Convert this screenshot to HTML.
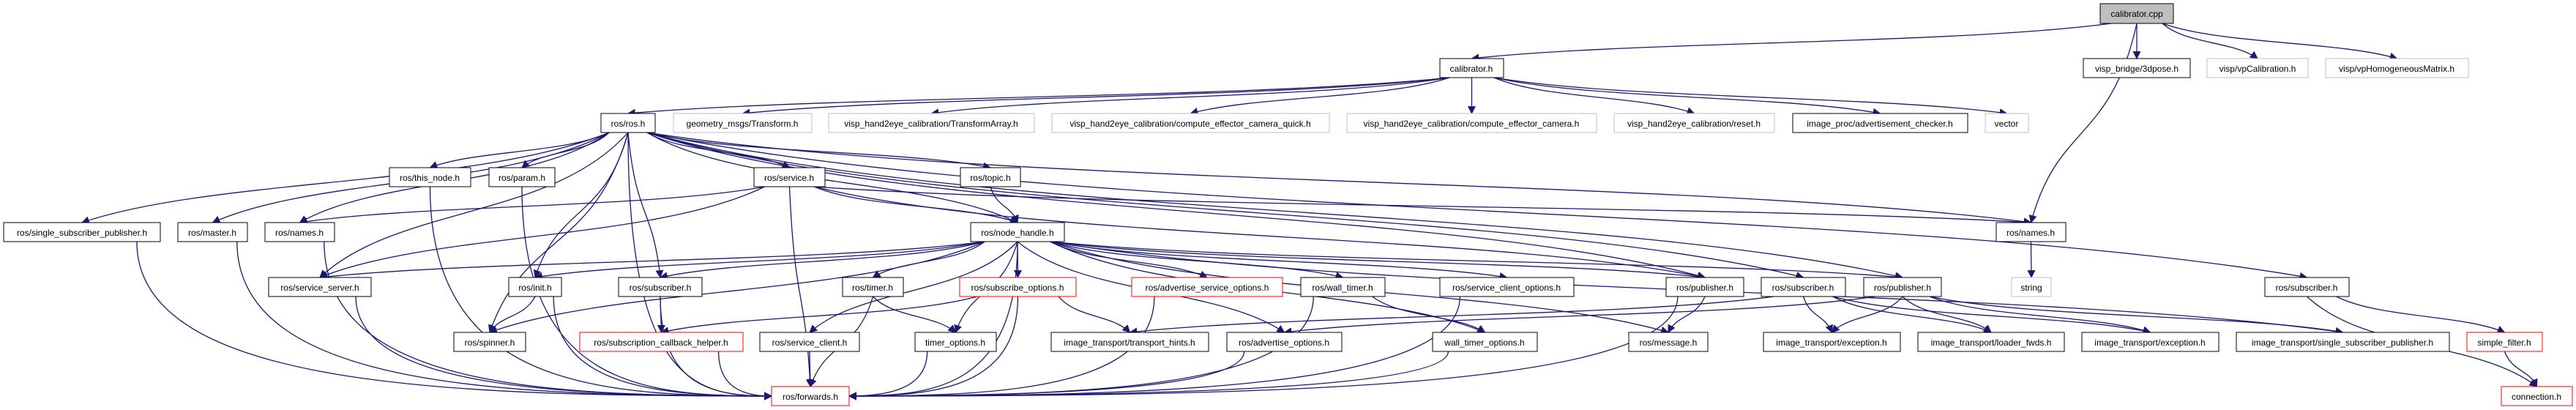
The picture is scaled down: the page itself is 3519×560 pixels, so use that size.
<!DOCTYPE html>
<html><head><meta charset="utf-8"><style>
html,body{margin:0;padding:0;background:#fff;width:3519px;height:560px;overflow:hidden}
svg text{font-family:"Liberation Sans",sans-serif;font-size:12px;fill:#000}
</style></head><body>
<svg id="s" width="3519" height="560" xmlns="http://www.w3.org/2000/svg">
<defs><marker id="a" viewBox="0 0 10 10" refX="9" refY="5" markerWidth="11" markerHeight="11" orient="auto" markerUnits="userSpaceOnUse"><path d="M0,0 L10,5 L0,10 z" fill="#191970"/></marker></defs>
<g id="edges" fill="none" stroke="#191970" stroke-width="1.3"></g>
<g id="nodes">
<g id="cpp"><rect x="2869" y="5" width="100" height="27" fill="#bfbfbf" stroke="#000"/><text x="2919" y="23" text-anchor="middle">calibrator.cpp</text></g>
<g id="calh"><rect x="1967" y="80" width="87" height="26" fill="#fff" stroke="#000"/><text x="2010" y="98" text-anchor="middle">calibrator.h</text></g>
<g id="bridge"><rect x="2846" y="80" width="146" height="26" fill="#fff" stroke="#000"/><text x="2919" y="98" text-anchor="middle">visp_bridge/3dpose.h</text></g>
<g id="vpcal"><rect x="3015" y="80" width="138" height="26" fill="#fff" stroke="#bfbfbf"/><text x="3084" y="98" text-anchor="middle">visp/vpCalibration.h</text></g>
<g id="vphom"><rect x="3177" y="80" width="195" height="26" fill="#fff" stroke="#bfbfbf"/><text x="3274" y="98" text-anchor="middle">visp/vpHomogeneousMatrix.h</text></g>

<g id="rosh"><rect x="821" y="155" width="74" height="26" fill="#fff" stroke="#000"/><text x="858" y="173" text-anchor="middle">ros/ros.h</text></g>
<g id="geom"><rect x="920" y="155" width="189" height="26" fill="#fff" stroke="#bfbfbf"/><text x="1014" y="173" text-anchor="middle">geometry_msgs/Transform.h</text></g>
<g id="tarr"><rect x="1132" y="155" width="281" height="26" fill="#fff" stroke="#bfbfbf"/><text x="1272" y="173" text-anchor="middle">visp_hand2eye_calibration/TransformArray.h</text></g>
<g id="quick"><rect x="1437" y="155" width="379" height="26" fill="#fff" stroke="#bfbfbf"/><text x="1626" y="173" text-anchor="middle">visp_hand2eye_calibration/compute_effector_camera_quick.h</text></g>
<g id="cam"><rect x="1840" y="155" width="341" height="26" fill="#fff" stroke="#bfbfbf"/><text x="2010" y="173" text-anchor="middle">visp_hand2eye_calibration/compute_effector_camera.h</text></g>
<g id="reset"><rect x="2205" y="155" width="219" height="26" fill="#fff" stroke="#bfbfbf"/><text x="2314" y="173" text-anchor="middle">visp_hand2eye_calibration/reset.h</text></g>
<g id="adv"><rect x="2449" y="155" width="239" height="26" fill="#fff" stroke="#000"/><text x="2568" y="173" text-anchor="middle">image_proc/advertisement_checker.h</text></g>
<g id="vector"><rect x="2712" y="155" width="59" height="26" fill="#fff" stroke="#bfbfbf"/><text x="2741" y="173" text-anchor="middle">vector</text></g>

<g id="thisnode"><rect x="532" y="229" width="111" height="26" fill="#fff" stroke="#000"/><text x="587" y="247" text-anchor="middle">ros/this_node.h</text></g>
<g id="param"><rect x="668" y="229" width="90" height="26" fill="#fff" stroke="#000"/><text x="713" y="247" text-anchor="middle">ros/param.h</text></g>
<g id="service"><rect x="1030" y="229" width="97" height="26" fill="#fff" stroke="#000"/><text x="1078" y="247" text-anchor="middle">ros/service.h</text></g>
<g id="topic"><rect x="1312" y="229" width="82" height="26" fill="#fff" stroke="#000"/><text x="1353" y="247" text-anchor="middle">ros/topic.h</text></g>

<g id="ssp"><rect x="5" y="304" width="214" height="26" fill="#fff" stroke="#000"/><text x="112" y="322" text-anchor="middle">ros/single_subscriber_publisher.h</text></g>
<g id="master"><rect x="243" y="304" width="95" height="26" fill="#fff" stroke="#000"/><text x="290" y="322" text-anchor="middle">ros/master.h</text></g>
<g id="names1"><rect x="362" y="304" width="95" height="26" fill="#fff" stroke="#000"/><text x="409" y="322" text-anchor="middle">ros/names.h</text></g>
<g id="nh"><rect x="1326" y="304" width="128" height="26" fill="#fff" stroke="#000"/><text x="1390" y="322" text-anchor="middle">ros/node_handle.h</text></g>
<g id="names2"><rect x="2727" y="304" width="95" height="26" fill="#fff" stroke="#000"/><text x="2774" y="322" text-anchor="middle">ros/names.h</text></g>

<g id="sserver"><rect x="367" y="379" width="140" height="26" fill="#fff" stroke="#000"/><text x="437" y="397" text-anchor="middle">ros/service_server.h</text></g>
<g id="init"><rect x="695" y="379" width="72" height="26" fill="#fff" stroke="#000"/><text x="731" y="397" text-anchor="middle">ros/init.h</text></g>
<g id="sub1"><rect x="845" y="379" width="114" height="26" fill="#fff" stroke="#000"/><text x="902" y="397" text-anchor="middle">ros/subscriber.h</text></g>
<g id="timer"><rect x="1151" y="379" width="83" height="26" fill="#fff" stroke="#000"/><text x="1192" y="397" text-anchor="middle">ros/timer.h</text></g>
<g id="subopts"><rect x="1311" y="379" width="159" height="26" fill="#fff" stroke="#ff0000"/><text x="1390" y="397" text-anchor="middle">ros/subscribe_options.h</text></g>
<g id="advsrv"><rect x="1546" y="379" width="206" height="26" fill="#fff" stroke="#ff0000"/><text x="1649" y="397" text-anchor="middle">ros/advertise_service_options.h</text></g>
<g id="wtimer"><rect x="1777" y="379" width="115" height="26" fill="#fff" stroke="#000"/><text x="1834" y="397" text-anchor="middle">ros/wall_timer.h</text></g>
<g id="sco"><rect x="1967" y="379" width="183" height="26" fill="#fff" stroke="#000"/><text x="2058" y="397" text-anchor="middle">ros/service_client_options.h</text></g>
<g id="pub1"><rect x="2276" y="379" width="106" height="26" fill="#fff" stroke="#000"/><text x="2329" y="397" text-anchor="middle">ros/publisher.h</text></g>
<g id="sub2"><rect x="2406" y="379" width="115" height="26" fill="#fff" stroke="#000"/><text x="2463" y="397" text-anchor="middle">ros/subscriber.h</text></g>
<g id="pub2"><rect x="2546" y="379" width="106" height="26" fill="#fff" stroke="#000"/><text x="2599" y="397" text-anchor="middle">ros/publisher.h</text></g>
<g id="string"><rect x="2748" y="379" width="54" height="26" fill="#fff" stroke="#bfbfbf"/><text x="2775" y="397" text-anchor="middle">string</text></g>
<g id="sub3"><rect x="3094" y="379" width="115" height="26" fill="#fff" stroke="#000"/><text x="3151" y="397" text-anchor="middle">ros/subscriber.h</text></g>

<g id="spinner"><rect x="620" y="454" width="98" height="26" fill="#fff" stroke="#000"/><text x="669" y="472" text-anchor="middle">ros/spinner.h</text></g>
<g id="sch"><rect x="792" y="454" width="223" height="26" fill="#fff" stroke="#ff0000"/><text x="903" y="472" text-anchor="middle">ros/subscription_callback_helper.h</text></g>
<g id="sclient"><rect x="1038" y="454" width="136" height="26" fill="#fff" stroke="#000"/><text x="1106" y="472" text-anchor="middle">ros/service_client.h</text></g>
<g id="topts"><rect x="1250" y="454" width="111" height="26" fill="#fff" stroke="#000"/><text x="1305" y="472" text-anchor="middle">timer_options.h</text></g>
<g id="hints"><rect x="1436" y="454" width="215" height="26" fill="#fff" stroke="#000"/><text x="1543" y="472" text-anchor="middle">image_transport/transport_hints.h</text></g>
<g id="advopts"><rect x="1676" y="454" width="157" height="26" fill="#fff" stroke="#000"/><text x="1754" y="472" text-anchor="middle">ros/advertise_options.h</text></g>
<g id="wto"><rect x="1957" y="454" width="143" height="26" fill="#fff" stroke="#000"/><text x="2028" y="472" text-anchor="middle">wall_timer_options.h</text></g>
<g id="message"><rect x="2225" y="454" width="108" height="26" fill="#fff" stroke="#000"/><text x="2279" y="472" text-anchor="middle">ros/message.h</text></g>
<g id="exc1"><rect x="2409" y="454" width="187" height="26" fill="#fff" stroke="#000"/><text x="2502" y="472" text-anchor="middle">image_transport/exception.h</text></g>
<g id="loader"><rect x="2620" y="454" width="200" height="26" fill="#fff" stroke="#000"/><text x="2720" y="472" text-anchor="middle">image_transport/loader_fwds.h</text></g>
<g id="exc2"><rect x="2844" y="454" width="187" height="26" fill="#fff" stroke="#000"/><text x="2937" y="472" text-anchor="middle">image_transport/exception.h</text></g>
<g id="issp"><rect x="3055" y="454" width="291" height="26" fill="#fff" stroke="#000"/><text x="3200" y="472" text-anchor="middle">image_transport/single_subscriber_publisher.h</text></g>
<g id="simple"><rect x="3370" y="454" width="103" height="26" fill="#fff" stroke="#ff0000"/><text x="3421" y="472" text-anchor="middle">simple_filter.h</text></g>

<g id="fwd"><rect x="1054" y="528" width="106" height="26" fill="#fff" stroke="#ff0000"/><text x="1107" y="546" text-anchor="middle">ros/forwards.h</text></g>
<g id="conn"><rect x="3417" y="528" width="97" height="26" fill="#fff" stroke="#ff0000"/><text x="3465" y="546" text-anchor="middle">connection.h</text></g>
</g>
</svg>
<script>
(function(){
var E={cpp:["calh","bridge","vpcal","vphom","names2"],
calh:["rosh","geom","tarr","quick","cam","reset","adv","vector"],
rosh:["ssp","master","names1","sserver","init","sub1","thisnode","param","service","topic","nh","names2","pub1","sub2","pub2","sub3","fwd","spinner"],
service:["names1","nh","names2","fwd","sserver","pub1"],
topic:["nh"],thisnode:["fwd"],param:["fwd"],ssp:["fwd"],master:["fwd"],names1:["fwd"],
nh:["sserver","init","sub1","timer","subopts","advsrv","wtimer","sco","pub1","message","topts","advopts","wto","sclient","spinner","fwd","pub2","issp"],
names2:["string"],init:["spinner","fwd"],sub1:["sch","fwd"],sserver:["fwd"],timer:["topts","fwd"],
subopts:["hints","sch","fwd"],advsrv:["fwd"],wtimer:["wto","fwd"],sco:["fwd"],pub1:["message","fwd"],
sub2:["exc1","loader","exc2","hints"],pub2:["exc1","loader","exc2","issp","advopts"],
sub3:["simple","conn"],simple:["conn"],sch:["fwd"],sclient:["fwd"],topts:["fwd"],advopts:["fwd"],wto:["fwd"]};
function box(id){var r=document.querySelector('#'+id+' rect');return {x:+r.getAttribute('x'),y:+r.getAttribute('y'),w:+r.getAttribute('width'),h:+r.getAttribute('height')};}
var g=document.getElementById('edges'),ns="http://www.w3.org/2000/svg";
document.querySelectorAll('#nodes text').forEach(function(t){var r=t.parentNode.querySelector('rect');var w=+r.getAttribute('width')-14;var bw=t.getComputedTextLength();if(bw>w){t.setAttribute('textLength',w);t.setAttribute('lengthAdjust','spacingAndGlyphs');}});
for(var s in E){var a=box(s);E[s].forEach(function(t){var b=box(t);
var sx=a.x+a.w/2,sy=a.y+a.h,tx=b.x+b.w/2,ty=b.y,p;
var dx=tx-sx;
if(Math.abs(dx)>3*(ty-sy)){sx=a.x+a.w*(dx>0?0.85:0.15);}
if(t==="fwd"&&Math.abs(dx)>150){ty=b.y+b.h/2;tx=(sx<tx)?b.x:b.x+b.w;
 p="M"+sx+","+sy+" C"+sx+","+(ty-10)+" "+(sx+(tx-sx)*0.5)+","+ty+" "+tx+","+ty;}
else{dx=tx-sx;var dy=ty-sy;
 p="M"+sx+","+sy+" C"+(sx+dx*0.25)+","+(sy+dy*0.6)+" "+(tx-dx*0.25)+","+(ty-dy*0.5)+" "+tx+","+ty;}
var e=document.createElementNS(ns,'path');e.setAttribute('d',p);e.setAttribute('marker-end','url(#a)');g.appendChild(e);});}
})();
</script>
</body></html>
